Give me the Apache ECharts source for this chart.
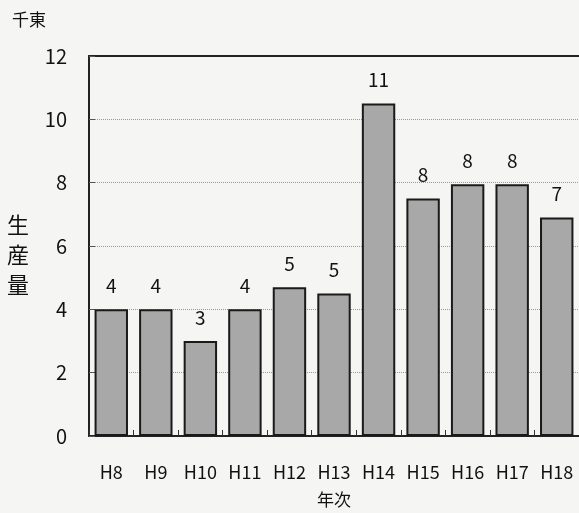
<!DOCTYPE html>
<html>
<head>
<meta charset="utf-8">
<script src="https://cdn.jsdelivr.net/npm/echarts@6/dist/echarts.min.js"></script>
<style>
  html, body { margin: 0; padding: 0; background: #f5f5f3; }
  #chart { width: 579px; height: 513px; }
</style>
</head>
<body>
<div id="chart"></div>
<script>
// 年次
var years = ['H8', 'H9', 'H10', 'H11', 'H12', 'H13', 'H14', 'H15', 'H16', 'H17', 'H18'];
// 生産量（千東）
var production = [4.0, 4.0, 3.0, 4.0, 4.7, 4.5, 10.5, 7.5, 7.95, 7.95, 6.9];
var yTicks = [0, 2, 4, 6, 8, 10, 12];

var font = '"Noto Sans CJK JP", "Noto Sans", sans-serif';
var myChart = echarts.init(document.getElementById('chart'));

var option = {
  backgroundColor: '#f5f5f3',
  animation: false,
  grid: { left: 89, top: 56, width: 495, height: 380, containLabel: false },
  graphic: [
    {
      type: 'text', left: 12, top: 11,
      style: { text: '千東', font: '17px ' + font, fill: '#111' }
    },
    {
      type: 'text', left: 7, top: 210,
      style: { text: '生\n産\n量', font: '22px ' + font, fill: '#111', lineHeight: 30 }
    }
  ],
  xAxis: [
    {
      type: 'category',
      data: years,
      name: '年次',
      nameLocation: 'middle',
      nameGap: 55,
      nameTextStyle: { fontFamily: font, fontSize: 17, color: '#111' },
      axisLine: { lineStyle: { color: '#222', width: 2 } },
      axisTick: { show: true, inside: true, length: 6, lineStyle: { color: '#333' } },
      axisLabel: {
        interval: 0, hideOverlap: false,
        fontFamily: font, fontSize: 18, color: '#111', margin: 27
      }
    },
    {
      type: 'category',
      data: years,
      position: 'top',
      axisLine: { lineStyle: { color: '#222', width: 2 } },
      axisTick: { show: false },
      axisLabel: { show: false }
    }
  ],
  yAxis: {
    type: 'value',
    min: yTicks[0],
    max: yTicks[yTicks.length - 1],
    interval: 2,
    axisLine: { show: true, lineStyle: { color: '#222', width: 2 } },
    axisTick: { show: true, inside: true, length: 6, lineStyle: { color: '#555' } },
    axisLabel: { fontFamily: font, fontSize: 20, color: '#111', margin: 22 },
    splitLine: { lineStyle: { color: '#999', type: 'dotted', width: 1 } }
  },
  series: [
    {
      type: 'bar',
      data: production,
      barCategoryGap: '25%',
      itemStyle: { color: '#a8a8a8', borderColor: '#1a1a1a', borderWidth: 2 },
      label: {
        show: true,
        position: 'top',
        distance: 14,
        fontFamily: font,
        fontSize: 19,
        color: '#111',
        formatter: function (p) { return Math.round(p.value); }
      }
    }
  ]
};

myChart.setOption(option);
</script>
</body>
</html>
